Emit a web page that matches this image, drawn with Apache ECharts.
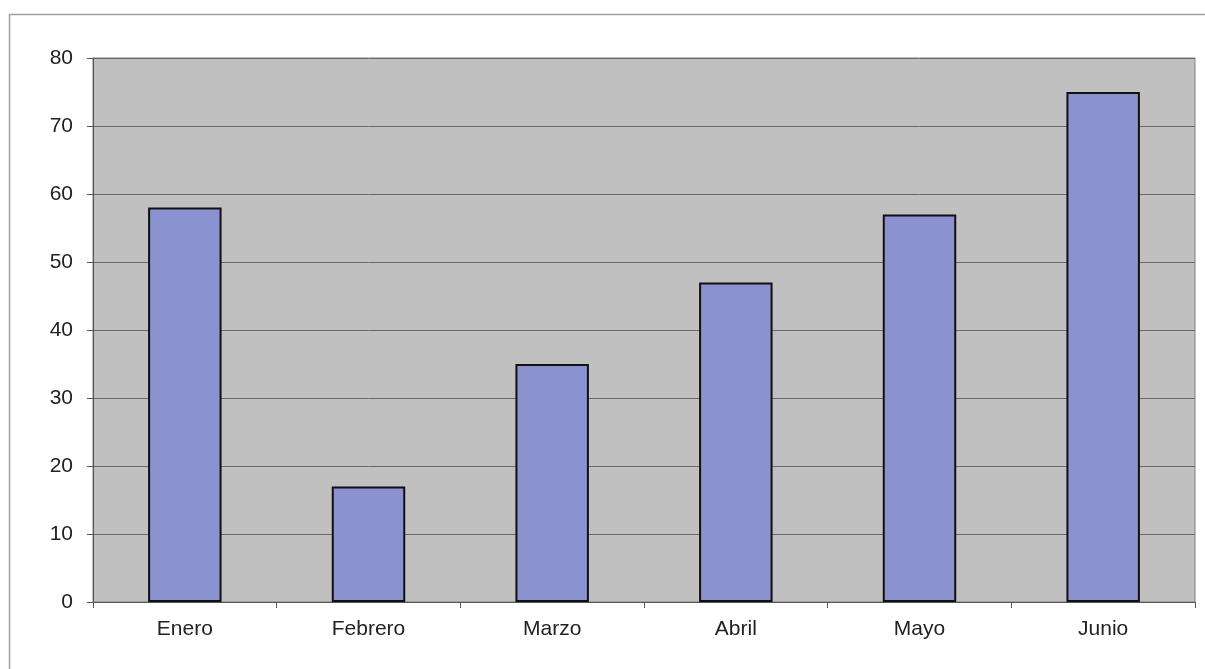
<!DOCTYPE html>
<html>
<head>
<meta charset="utf-8">
<script src="https://cdn.jsdelivr.net/npm/echarts@6/dist/echarts.min.js"></script>
<style>
  html, body { margin: 0; padding: 0; background: #fff; }
</style>
</head>
<body>
<div id="main" style="width: 1205px;height: 669px"></div>
<script>
var months = ['Enero', 'Febrero', 'Marzo', 'Abril', 'Mayo', 'Junio'];
var values = [58, 17, 35, 47, 57, 75];

var chartDom = document.getElementById('main');
var myChart = echarts.init(chartDom);
var option = {
  animation: false,
  backgroundColor: '#fff',
  graphic: [
    {
      type: 'rect',
      shape: { x: 9.5, y: 14.5, width: 1220, height: 700 },
      style: { fill: 'none', stroke: '#a0a0a0', lineWidth: 1.5 },
      z: -1
    }
  ],
  grid: {
    left: 93,
    right: 10,
    top: 58,
    bottom: 67,
    show: true,
    backgroundColor: '#c0c0c0',
    borderColor: '#808080',
    borderWidth: 1
  },
  xAxis: {
    type: 'category',
    data: months,
    axisLine: { lineStyle: { color: '#555', width: 1 } },
    axisTick: { show: true, length: 6, lineStyle: { color: '#555' } },
    axisLabel: { color: '#222', fontSize: 21, fontFamily: 'Liberation Sans', margin: 17 }
  },
  yAxis: {
    type: 'value',
    min: 0,
    max: 80,
    interval: 10,
    axisLine: { show: true, lineStyle: { color: '#555', width: 1 } },
    axisTick: { show: true, length: 6, lineStyle: { color: '#555' } },
    axisLabel: { color: '#222', fontSize: 21, fontFamily: 'Liberation Sans', margin: 20 },
    splitLine: { show: true, lineStyle: { color: '#6a6a6a', width: 1 } }
  },
  series: [
    {
      type: 'bar',
      data: values,
      barWidth: '40%',
      itemStyle: {
        color: '#8a93cf',
        borderColor: '#111',
        borderWidth: 2
      }
    }
  ]
};
myChart.setOption(option);
</script>
</body>
</html>
